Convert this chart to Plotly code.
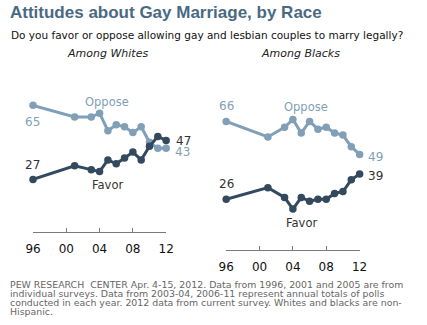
import plotly.graph_objects as go

years = [1996, 2001, 2003, 2004, 2005, 2006, 2007, 2008, 2009, 2010, 2011, 2012]
white_oppose = [65, 59, 59, 61, 52, 55, 54, 51, 54, 46, 43, 43]
white_favor = [27, 34, 32, 31, 37, 35, 38, 41, 37, 44, 49, 47]
black_oppose = [66, 58, 63, 67, 60, 66, 62, 63, 60, 59, 53, 49]
black_favor = [26, 32, 27, 21, 27, 25, 26, 26, 29, 30, 36, 39]
tick_vals = [1996, 2000, 2004, 2008, 2012]
tick_text = ["96", "00", "04", "08", "12"]

OPP = "#819fb7"
FAV = "#33495e"
W, H = 427, 325

fig = go.Figure()

def add_series(x, y, color, xa, ya):
    fig.add_trace(go.Scatter(
        x=x, y=y, mode="lines+markers", xaxis=xa, yaxis=ya,
        line=dict(color=color, width=3),
        marker=dict(color=color, size=7.5),
        cliponaxis=False, showlegend=False, hoverinfo="skip"))

add_series(years, white_oppose, OPP, "x", "y")
add_series(years, white_favor, FAV, "x", "y")
add_series(years, black_oppose, OPP, "x2", "y2")
add_series(years, black_favor, FAV, "x2", "y2")

def px_x(p):
    return p / W

def px_y(p):
    return 1 - p / H

xcommon = dict(range=[1996, 2012], tickvals=tick_vals, ticktext=tick_text,
               showgrid=False, zeroline=False, showline=True, linecolor="#7a7a7a",
               linewidth=1, ticks="inside", ticklen=4, tickcolor="#7a7a7a",
               ticklabelstandoff=6,
               tickfont=dict(family="DejaVu Sans", size=12, color="#111111"),
               fixedrange=True)
ycommon = dict(range=[0, 78], visible=False, showgrid=False, zeroline=False, fixedrange=True)

fig.update_layout(
    width=W, height=H,
    margin=dict(l=0, r=0, t=0, b=0),
    paper_bgcolor="white", plot_bgcolor="white",
    xaxis=dict(domain=[px_x(26), px_x(164.3)], anchor="y", **xcommon),
    yaxis=dict(domain=[px_y(232), px_y(80)], anchor="x", **ycommon),
    xaxis2=dict(domain=[px_x(226.7), px_x(365.3)], anchor="y2", **xcommon),
    yaxis2=dict(domain=[px_y(250), px_y(98)], anchor="x2", **ycommon),
)

ann = []

def text(x, y, s, size=12, color="#222222", anchor="left", family="DejaVu Sans", bold=False, italic=False):
    if bold:
        s = "<b>" + s + "</b>"
    if italic:
        s = "<i>" + s + "</i>"
    ann.append(dict(x=px_x(x), y=px_y(y), xref="paper", yref="paper", text=s, showarrow=False,
                    xanchor=anchor, yanchor="middle", borderpad=0,
                    font=dict(family=family, size=size, color=color)))

text(1, 12, "Attitudes about Gay Marriage, by Race", size=17, color="#4a6a84", bold=True,
     family="Liberation Sans")
text(2, 35, "Do you favor or oppose allowing gay and lesbian couples to marry legally?", size=10.5, color="#111111")
text(103, 53, "Among Whites", size=11, color="#222222", anchor="center", italic=True)
text(304, 53, "Among Blacks", size=11, color="#222222", anchor="center", italic=True)

# series labels, left panel
text(103, 102, "Oppose", size=11.5, color=OPP, anchor="center")
text(25.5, 122, "65", size=12, color=OPP, anchor="center")
text(25.5, 165, "27", size=12, color="#333333", anchor="center")
text(103, 185, "Favor", size=11.5, color="#333333", anchor="center")
text(182, 140.5, "47", size=12, color="#333333", anchor="center")
text(181, 152, "43", size=12, color=OPP, anchor="center")

# right panel
text(227, 106, "66", size=12, color=OPP, anchor="center")
text(310, 107, "Oppose", size=11.5, color=OPP, anchor="center")
text(382, 157, "49", size=12, color=OPP, anchor="center")
text(382, 176, "39", size=12, color="#333333", anchor="center")
text(227, 184, "26", size=12, color="#333333", anchor="center")
text(305, 223, "Favor", size=11.5, color="#333333", anchor="center")

foot = [
    "PEW RESEARCH  CENTER Apr. 4-15, 2012. Data from 1996, 2001 and 2005 are from",
    "individual surveys. Data from 2003-04, 2006-11 represent annual totals of polls",
    "conducted in each year. 2012 data from current survey. Whites and blacks are non-",
    "Hispanic.",
]
for i, line in enumerate(foot):
    text(1, 284.8 + i * 8.9, line, size=9.4, color="#666666")

fig.update_layout(annotations=ann)
fig.write_html("out.html")
